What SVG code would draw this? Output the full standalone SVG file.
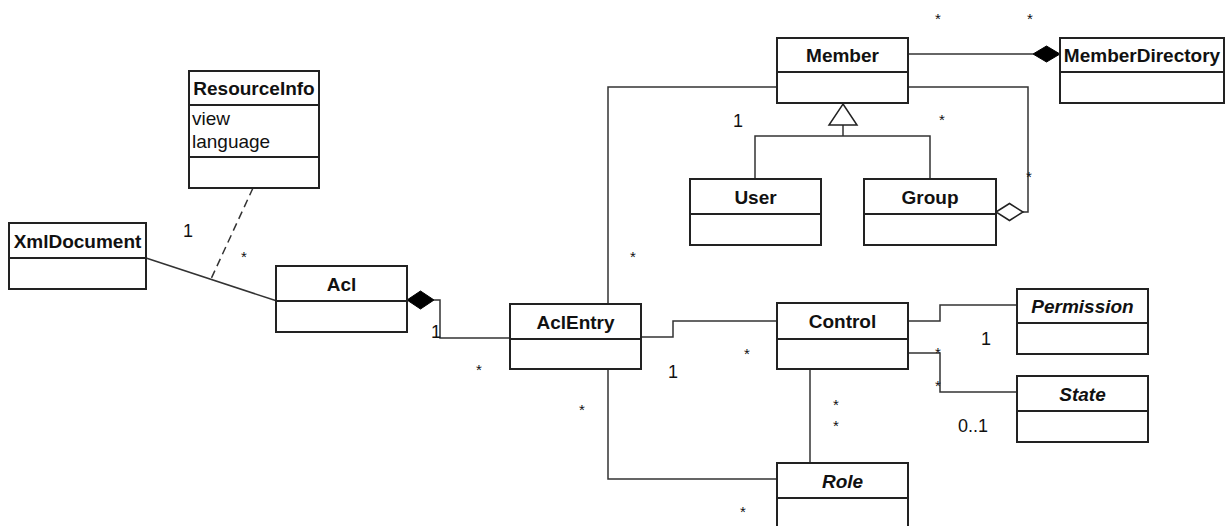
<svg xmlns="http://www.w3.org/2000/svg" width="1225" height="526" viewBox="0 0 1225 526">
  <style>
    .box { fill: #fff; stroke: #222; stroke-width: 2; }
    .sep { stroke: #222; stroke-width: 2; fill: none; }
    .name { font-family: "Liberation Sans", Arial, sans-serif; font-size: 19px; font-weight: bold; fill: #111; text-anchor: middle; }
    .abstract { font-style: italic; }
    .attr { font-family: "Liberation Sans", Arial, sans-serif; font-size: 19px; fill: #111; }
    .edge { fill: none; stroke: #333; stroke-width: 1.5; }
    .dashed { stroke-dasharray: 8 5; }
    .mult { font-family: "Liberation Sans", Arial, sans-serif; font-size: 18px; fill: #111; text-anchor: middle; }
    .star { font-family: "Liberation Sans", Arial, sans-serif; font-size: 15px; fill: #111; text-anchor: middle; }
    .filled { fill: #000; stroke: #000; stroke-width: 1; }
    .hollow { fill: #fff; stroke: #222; stroke-width: 1.5; }
  </style>

  <!-- associations and other connectors -->
  <g id="connectors">
    <!-- XmlDocument - Acl with ResourceInfo association class -->
    <line class="edge" x1="146" y1="258" x2="277" y2="301"/>
    <line class="edge dashed" x1="253" y1="188" x2="211" y2="279"/>

    <!-- Acl composition of AclEntry -->
    <polyline class="edge" points="434,300 440,300 440,338 510,338"/>
    <polygon class="filled" points="407,300 420.5,291 434,300 420.5,309"/>

    <!-- AclEntry - Member -->
    <polyline class="edge" points="608,304 608,87 777,87"/>
    <!-- AclEntry - Role -->
    <polyline class="edge" points="608,369 608,479 777,479"/>
    <!-- AclEntry - Control -->
    <polyline class="edge" points="641,337 673,337 673,321 777,321"/>
    <!-- Control - Permission -->
    <polyline class="edge" points="908,321 940,321 940,305 1017,305"/>
    <!-- Control - State -->
    <polyline class="edge" points="908,353 940,353 940,392 1017,392"/>
    <!-- Control - Role -->
    <line class="edge" x1="810" y1="369" x2="810" y2="463"/>

    <!-- MemberDirectory composition of Member -->
    <line class="edge" x1="908" y1="54" x2="1033" y2="54"/>
    <polygon class="filled" points="1033,54 1046.5,46 1060,54 1046.5,62"/>

    <!-- Member generalization: User, Group -->
    <polyline class="edge" points="755,179 755,136 930,136 930,179"/>
    <line class="edge" x1="843" y1="125" x2="843" y2="136"/>
    <polygon class="hollow" points="843,104 857,125 829,125"/>

    <!-- Group aggregation of Member -->
    <polyline class="edge" points="908,87 1028,87 1028,212 1023,212"/>
    <polygon class="hollow" points="996,212 1009.5,203.5 1023,212 1009.5,220.5"/>
  </g>

  <!-- multiplicities -->
  <g id="labels">
    <text class="mult" x="188" y="236.5">1</text>
    <text class="star" x="244" y="261.5">*</text>
    <text class="mult" x="436" y="338">1</text>
    <text class="star" x="479" y="374.5">*</text>
    <text class="star" x="633" y="261.5">*</text>
    <text class="mult" x="738" y="126.5">1</text>
    <text class="star" x="582" y="414.5">*</text>
    <text class="star" x="743" y="516.5">*</text>
    <text class="star" x="747" y="358.5">*</text>
    <text class="mult" x="673" y="378">1</text>
    <text class="mult" x="986" y="344.5">1</text>
    <text class="star" x="938" y="357.5">*</text>
    <text class="star" x="938" y="390.5">*</text>
    <text class="mult" x="973" y="431.5">0..1</text>
    <text class="star" x="836" y="409.5">*</text>
    <text class="star" x="836" y="430.5">*</text>
    <text class="star" x="938" y="23.5">*</text>
    <text class="star" x="1030" y="23.5">*</text>
    <text class="star" x="942" y="124.5">*</text>
    <text class="star" x="1029" y="181.5">*</text>
  </g>

  <!-- classes -->
  <g id="ResourceInfo">
    <rect class="box" x="189" y="71" width="130" height="117"/>
    <line class="sep" x1="189" y1="105" x2="319" y2="105"/>
    <line class="sep" x1="189" y1="157" x2="319" y2="157"/>
    <text class="name" x="254" y="94.5">ResourceInfo</text>
    <text class="attr" x="192" y="125">view</text>
    <text class="attr" x="192" y="148">language</text>
  </g>

  <g id="XmlDocument">
    <rect class="box" x="9" y="223" width="137" height="66"/>
    <line class="sep" x1="9" y1="258" x2="146" y2="258"/>
    <text class="name" x="77.5" y="247.5">XmlDocument</text>
  </g>

  <g id="Acl">
    <rect class="box" x="276" y="266" width="131" height="66"/>
    <line class="sep" x1="276" y1="301" x2="407" y2="301"/>
    <text class="name" x="341.5" y="290.5">Acl</text>
  </g>

  <g id="AclEntry">
    <rect class="box" x="510" y="304" width="131" height="65"/>
    <line class="sep" x1="510" y1="339" x2="641" y2="339"/>
    <text class="name" x="575.5" y="328.5">AclEntry</text>
  </g>

  <g id="Member">
    <rect class="box" x="777" y="38" width="131" height="65"/>
    <line class="sep" x1="777" y1="72" x2="908" y2="72"/>
    <text class="name" x="842.5" y="62">Member</text>
  </g>

  <g id="MemberDirectory">
    <rect class="box" x="1060" y="38" width="164" height="65"/>
    <line class="sep" x1="1060" y1="72" x2="1224" y2="72"/>
    <text class="name" x="1142" y="62">MemberDirectory</text>
  </g>

  <g id="User">
    <rect class="box" x="690" y="179" width="131" height="66"/>
    <line class="sep" x1="690" y1="214" x2="821" y2="214"/>
    <text class="name" x="755.5" y="203.5">User</text>
  </g>

  <g id="Group">
    <rect class="box" x="864" y="179" width="132" height="66"/>
    <line class="sep" x1="864" y1="214" x2="996" y2="214"/>
    <text class="name" x="930" y="203.5">Group</text>
  </g>

  <g id="Control">
    <rect class="box" x="777" y="303" width="131" height="66"/>
    <line class="sep" x1="777" y1="339" x2="908" y2="339"/>
    <text class="name" x="842.5" y="328">Control</text>
  </g>

  <g id="Permission">
    <rect class="box" x="1017" y="289" width="131" height="65"/>
    <line class="sep" x1="1017" y1="323" x2="1148" y2="323"/>
    <text class="name abstract" x="1082.5" y="313">Permission</text>
  </g>

  <g id="State">
    <rect class="box" x="1017" y="376" width="131" height="66"/>
    <line class="sep" x1="1017" y1="411" x2="1148" y2="411"/>
    <text class="name abstract" x="1082.5" y="400.5">State</text>
  </g>

  <g id="Role">
    <rect class="box" x="777" y="463" width="131" height="72"/>
    <line class="sep" x1="777" y1="498" x2="908" y2="498"/>
    <text class="name abstract" x="842.5" y="487.5">Role</text>
  </g>
</svg>
